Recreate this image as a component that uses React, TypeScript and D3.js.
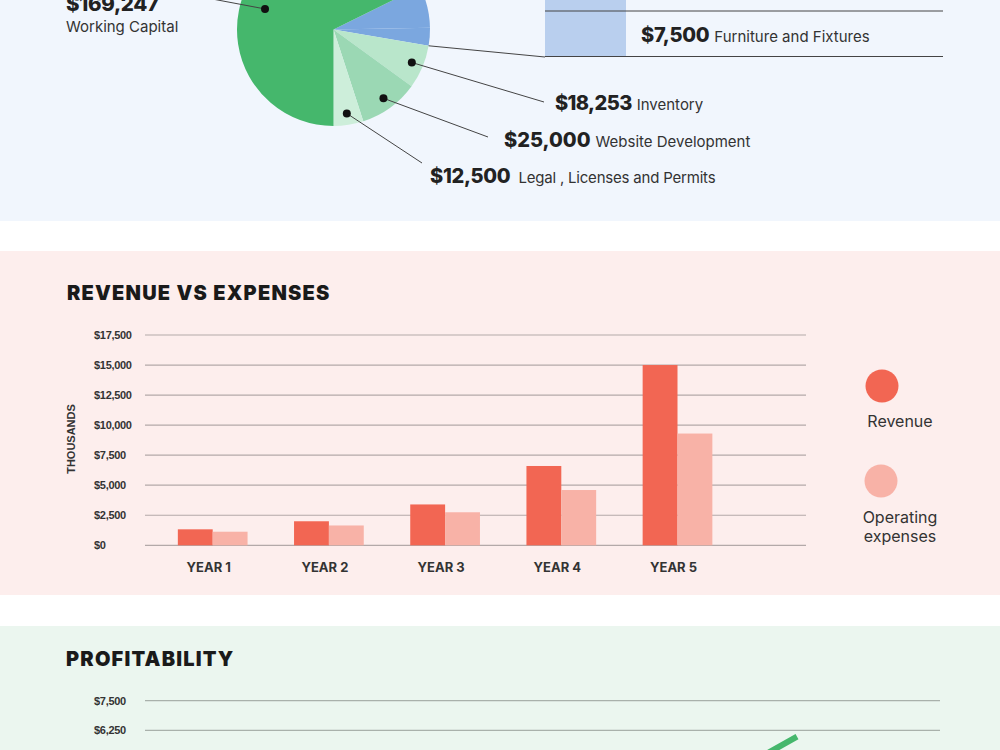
import React from 'react';
import * as d3 from 'd3';

// ---------- DATA ----------
const fundNames = ['Equipment', 'Furniture and Fixtures', 'Inventory', 'Website Development', 'Legal , Licenses and Permits', 'Working Capital'];
const fundValues = [17500, 7500, 18253, 25000, 12500, 169247];
const fundColors = ['#7ba7df', '#7ba7df', '#b9e6cb', '#9bd8b4', '#cdeeda', '#45b76c'];

const years = ['YEAR 1', 'YEAR 2', 'YEAR 3', 'YEAR 4', 'YEAR 5'];
const revenue = [1330, 2000, 3400, 6600, 15000];
const opExpenses = [1130, 1650, 2750, 4600, 9300];
const revTicks = [0, 2500, 5000, 7500, 10000, 12500, 15000, 17500];
const seriesNames = ['Revenue', 'Operating expenses'];
const seriesColors = ['#f26653', '#f8b2a7'];

const profit = [200, 350, 650, 2200, 5980];
const profitTicks = [6250, 7500];

const HEAD = "'Inter', 'DejaVu Sans', sans-serif";
const TICK = "'Liberation Sans', Arial, sans-serif";
const fmt = d3.format('$,');

export default function App() {
  // ---------- PIE ----------
  const cx = 333.5, cy = 29.5, R = 96.5;
  const total = d3.sum(fundValues);
  const before = d3.sum(fundValues.slice(0, 5));
  const a0 = Math.PI - 2 * Math.PI * before / total;
  const pieData = d3.pie<number>().sort(null).startAngle(a0).endAngle(a0 + 2 * Math.PI)(fundValues);
  const arc = d3.arc<d3.PieArcDatum<number>>().innerRadius(0).outerRadius(R);
  const pt = (a: number, r: number) => [cx + r * Math.sin(a), cy - r * Math.cos(a)];
  const mid = (i: number) => (pieData[i].startAngle + pieData[i].endAngle) / 2;

  const invDot = pt(mid(2), 85);
  const webDot = pt(mid(3), 85);
  const legDot = pt(mid(4), 85);
  const wcDot = pt(286.7 * Math.PI / 180, 71.5);
  const furnEdge = pt(pieData[1].endAngle, R);

  // ---------- BARS ----------
  const x = d3.scaleBand<string>().domain(years).range([154.6, 735.6]).paddingInner(0.4).paddingOuter(0.2);
  const xs = d3.scaleBand<string>().domain(seriesNames).range([0, x.bandwidth()]);
  const y = d3.scaleLinear().domain([0, 17500]).range([545.3, 335]);

  // ---------- PROFIT ----------
  const px = d3.scalePoint<string>().domain(years).range([157, 797]);
  const py = d3.scaleLinear().domain([0, 7500]).range([878.3, 700.7]);
  const line = d3.line<number>().x((_, i) => px(years[i])!).y(d => py(d));

  return (
    <svg width={1000} height={750} style={{ position: 'absolute', left: 0, top: 0 }}>
      {/* backgrounds */}
      <rect x={0} y={0} width={1000} height={750} fill="#ffffff" />
      <rect x={0} y={0} width={1000} height={221} fill="#f1f6fd" />
      <rect x={0} y={251} width={1000} height={344} fill="#fdeeed" />
      <rect x={0} y={626} width={1000} height={124} fill="#ebf6ef" />

      {/* ===== PIE ===== */}
      <g transform={`translate(${cx},${cy})`}>
        {pieData.map((d, i) => (
          <path key={i} d={arc(d)!} fill={fundColors[i]} />
        ))}
      </g>
      {/* table */}
      <rect x={545} y={0} width={81} height={56.5} fill="#b9cfee" />
      <line x1={545} x2={943} y1={11} y2={11} stroke="#444" strokeWidth={1} />
      <line x1={545} x2={943} y1={56.5} y2={56.5} stroke="#444" strokeWidth={1} />
      <line x1={furnEdge[0]} y1={furnEdge[1]} x2={545} y2={57} stroke="#444" strokeWidth={1} />
      <text x={641} y={42} fontFamily={HEAD} fill="#222">
        <tspan fontWeight={800} fontSize={20} letterSpacing={-0.3}>{fmt(fundValues[1])}</tspan>
        <tspan dx={5} fontSize={15} fill="#333">{fundNames[1]}</tspan>
      </text>

      {/* leader lines */}
      <line x1={invDot[0]} y1={invDot[1]} x2={544} y2={102} stroke="#444" strokeWidth={1} />
      <line x1={webDot[0]} y1={webDot[1]} x2={488} y2={137} stroke="#444" strokeWidth={1} />
      <line x1={legDot[0]} y1={legDot[1]} x2={422} y2={163} stroke="#444" strokeWidth={1} />
      <line x1={wcDot[0]} y1={wcDot[1]} x2={170} y2={-9} stroke="#444" strokeWidth={1} />
      {[invDot, webDot, legDot, wcDot].map((p, i) => (
        <circle key={i} cx={p[0]} cy={p[1]} r={4} fill="#111" />
      ))}

      <text x={555} y={110} fontFamily={HEAD} fill="#222">
        <tspan fontWeight={800} fontSize={20} letterSpacing={-0.6}>{fmt(fundValues[2])}</tspan>
        <tspan dx={5} fontSize={15} fill="#333">{fundNames[2]}</tspan>
      </text>
      <text x={504} y={147} fontFamily={HEAD} fill="#222">
        <tspan fontWeight={800} fontSize={20}>{fmt(fundValues[3])}</tspan>
        <tspan dx={5} fontSize={15} fill="#333">{fundNames[3]}</tspan>
      </text>
      <text x={430} y={183} fontFamily={HEAD} fill="#222">
        <tspan fontWeight={800} fontSize={20} letterSpacing={-0.3}>{fmt(fundValues[4])}</tspan>
        <tspan dx={8} fontSize={15} fill="#333" letterSpacing={-0.2}>{fundNames[4]}</tspan>
      </text>
      <text x={66} y={11} fontFamily={HEAD} fontWeight={800} fontSize={20.5} letterSpacing={-0.3} fill="#222">{fmt(fundValues[5])}</text>
      <text x={66} y={32} fontFamily={HEAD} fontSize={15} fill="#333">{fundNames[5]}</text>

      {/* ===== REVENUE VS EXPENSES ===== */}
      <text x={67} y={300} fontFamily={HEAD} fontWeight={900} fontSize={20} letterSpacing={1.2} fill="#1a1a1a">REVENUE VS EXPENSES</text>
      {revTicks.map(t => (
        <g key={t}>
          <line x1={145} x2={806} y1={y(t)} y2={y(t)} stroke="#b3a9a9" strokeWidth={1.2} />
          <text x={94} y={y(t)} dy="0.35em" fontFamily={TICK} fontWeight={700} fontSize={11} letterSpacing={-0.3} fill="#333">{fmt(t)}</text>
        </g>
      ))}
      <text transform="translate(74.5,439) rotate(-90)" textAnchor="middle" fontFamily={TICK} fontWeight={700} fontSize={11} fill="#333">THOUSANDS</text>
      {years.map((yr, i) => (
        <g key={yr}>
          <rect x={x(yr)! + xs(seriesNames[0])!} y={y(revenue[i])} width={xs.bandwidth()} height={y(0) - y(revenue[i])} fill={seriesColors[0]} />
          <rect x={x(yr)! + xs(seriesNames[1])!} y={y(opExpenses[i])} width={xs.bandwidth()} height={y(0) - y(opExpenses[i])} fill={seriesColors[1]} />
          <text x={x(yr)! + x.bandwidth() / 2 - 4} y={572} textAnchor="middle" fontFamily={HEAD} fontWeight={700} fontSize={13} fill="#333">{yr}</text>
        </g>
      ))}
      {/* legend */}
      <circle cx={882} cy={386} r={16.5} fill={seriesColors[0]} />
      <text x={900} y={427} textAnchor="middle" fontFamily={HEAD} fontSize={16} fill="#333">Revenue</text>
      <circle cx={881} cy={481} r={16.5} fill={seriesColors[1]} />
      <text x={900} y={523} textAnchor="middle" fontFamily={HEAD} fontSize={16} fill="#333">Operating</text>
      <text x={900} y={542} textAnchor="middle" fontFamily={HEAD} fontSize={16} fill="#333">expenses</text>

      {/* ===== PROFITABILITY ===== */}
      <text x={66} y={666} fontFamily={HEAD} fontWeight={900} fontSize={20} letterSpacing={1.2} fill="#1a1a1a">PROFITABILITY</text>
      {profitTicks.map(t => (
        <g key={t}>
          <line x1={145} x2={940} y1={py(t)} y2={py(t)} stroke="#a9b1ab" strokeWidth={1.2} />
          <text x={94} y={py(t)} dy="0.35em" fontFamily={TICK} fontWeight={700} fontSize={11} letterSpacing={-0.3} fill="#333">{fmt(t)}</text>
        </g>
      ))}
      <path d={line(profit)!} fill="none" stroke="#45b76c" strokeWidth={6} strokeLinecap="butt" strokeLinejoin="round" />
    </svg>
  );
}
